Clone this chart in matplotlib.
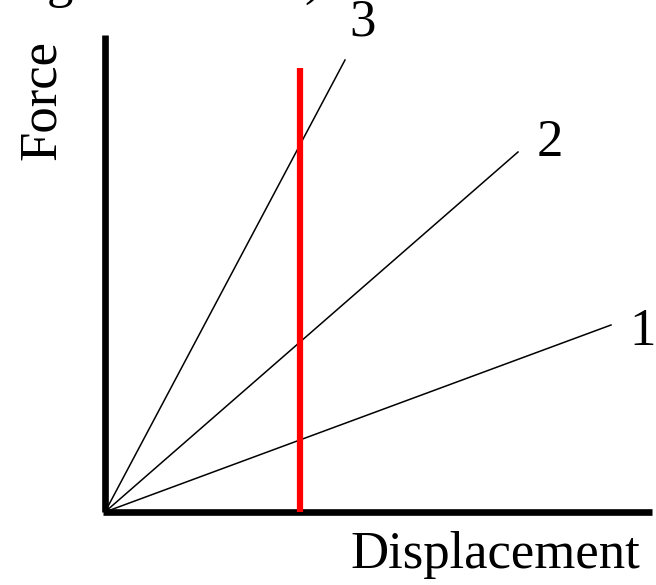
import matplotlib.pyplot as plt

# stiffness lines, all from the origin: end points (displacement, force)
labels = ['1', '2', '3']
end_x = [506, 413, 240]
end_y = [187, 360, 452]
label_x = [538, 445, 258]
label_y = [180, 369, 489]

limit_x = 195        # red vertical marker
limit_top = 444
axis_len_x = 547
axis_len_y = 477

fig = plt.figure(figsize=(6.56, 5.85), dpi=100)
ax = fig.add_axes([0, 0, 1, 1])
ax.set_xlim(-105, 551)
ax.set_ylim(-73, 512)
ax.axis('off')

plt.rcParams['font.family'] = ['Liberation Serif', 'DejaVu Serif']

# axes drawn by hand, thick
ax.plot([0, 0], [0, axis_len_y], color='black', lw=4.8, solid_capstyle='butt')
ax.plot([-2, axis_len_x], [0, 0], color='black', lw=4.8, solid_capstyle='butt')

for lab, x1, y1, lx, ly in zip(labels, end_x, end_y, label_x, label_y):
    ax.plot([0, x1], [0, y1], color='black', lw=1.1)
    ax.text(lx, ly, lab, fontsize=38, ha='center', va='center', family='Liberation Serif')

ax.plot([limit_x, limit_x], [0, limit_top], color='red', lw=4.5, solid_capstyle='butt')

ax.text(390, -43, 'Displacement', fontsize=38, ha='center', va='center', family='Liberation Serif')
ax.text(-63, 412, 'Force', fontsize=38, rotation=90, ha='center', va='center', family='Liberation Serif')

# bits of a title cut off at the top edge
ax.text(-45, 528, 'g', fontsize=38, ha='center', va='center', family='Liberation Serif')
ax.text(208, 530, ')', fontsize=38, ha='center', va='center', family='Liberation Serif')

plt.savefig('out.png', dpi=100)
